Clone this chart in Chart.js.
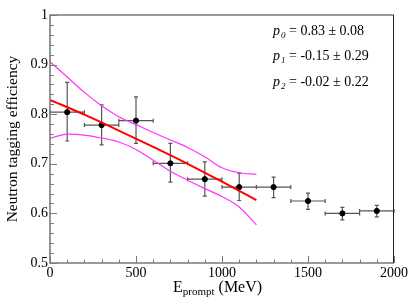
<!DOCTYPE html>
<html>
<head>
<meta charset="utf-8">
<script src="https://cdn.jsdelivr.net/npm/chart.js@4/dist/chart.umd.min.js"></script>
<style>
  html, body { margin: 0; padding: 0; background: #fff; }
</style>
</head>
<body>
<canvas id="eff" width="415" height="300"></canvas>
<script>
// measured points (E_prompt bin centre, efficiency, error bar ends)
const energy     = [100, 300, 500, 700, 900, 1100, 1300, 1500, 1700, 1900];
const efficiency = [0.804, 0.778, 0.787, 0.701, 0.669, 0.653, 0.653, 0.625, 0.600, 0.605];
const errTop     = [0.864, 0.819, 0.835, 0.741, 0.704, 0.681, 0.673, 0.641, 0.612, 0.616];
const errBottom  = [0.746, 0.738, 0.741, 0.663, 0.635, 0.626, 0.632, 0.608, 0.587, 0.593];
const binHalf    = [100, 100, 100, 100, 100, 100, 100, 100, 100, 100];

// fit curve and its error band
const fitX = [0, 200, 400, 600, 800, 1000, 1200];
const fitY = [0.829, 0.799, 0.767, 0.734, 0.700, 0.664, 0.627];

const bandX     = [0, 100, 200, 300, 400, 500, 600, 700, 800, 900, 1000, 1100, 1200];
const bandUpper = [0.906, 0.875, 0.844, 0.817, 0.795, 0.779, 0.763, 0.748, 0.733, 0.714, 0.692, 0.682, 0.679];
const bandLower = [0.751, 0.760, 0.758, 0.752, 0.744, 0.729, 0.707, 0.685, 0.667, 0.650, 0.634, 0.613, 0.577];

const paramIdx = ['0', '1', '2'];
const paramVal = ['0.83', '-0.15', '-0.02'];
const paramErr = ['0.08', '0.29', '0.22'];

const serif = '"Liberation Serif", "DejaVu Serif", serif';
const toXY = (xs, ys) => xs.map((x, i) => ({ x: x, y: ys[i] }));

const rootStyle = {
  id: 'rootStyle',
  beforeDatasetDraw(chart, args) {
    if (args.index !== 3) return;
    const ctx = chart.ctx, xs = chart.scales.x, ys = chart.scales.y;
    ctx.save();
    ctx.strokeStyle = '#555';
    ctx.lineWidth = 1.2;
    ctx.beginPath();
    energy.forEach((e, i) => {
      const px = xs.getPixelForValue(e);
      const py = ys.getPixelForValue(efficiency[i]);
      const x0 = xs.getPixelForValue(e - binHalf[i]);
      const x1 = xs.getPixelForValue(e + binHalf[i]);
      const yt = ys.getPixelForValue(errTop[i]);
      const yb = ys.getPixelForValue(errBottom[i]);
      ctx.moveTo(x0, py); ctx.lineTo(x1, py);
      ctx.moveTo(x0, py - 2); ctx.lineTo(x0, py + 2);
      ctx.moveTo(x1, py - 2); ctx.lineTo(x1, py + 2);
      ctx.moveTo(px, yt); ctx.lineTo(px, yb);
      ctx.moveTo(px - 2, yt); ctx.lineTo(px + 2, yt);
      ctx.moveTo(px - 2, yb); ctx.lineTo(px + 2, yb);
    });
    ctx.stroke();
    ctx.restore();
  },
  afterDraw(chart) {
    const ctx = chart.ctx, a = chart.chartArea;
    const xs = chart.scales.x, ys = chart.scales.y;
    ctx.save();
    // frame
    ctx.strokeStyle = '#7a7a7a';
    ctx.lineWidth = 1.6;
    ctx.beginPath();
    ctx.moveTo(a.right, a.top); ctx.lineTo(a.left, a.top);
    ctx.lineTo(a.left, a.bottom); ctx.lineTo(a.right, a.bottom);
    ctx.stroke();
    ctx.strokeStyle = '#222';
    ctx.lineWidth = 1;
    ctx.beginPath();
    ctx.moveTo(a.right - 0.5, a.top); ctx.lineTo(a.right - 0.5, a.bottom);
    ctx.stroke();
    // inward ticks
    ctx.strokeStyle = '#7a7a7a';
    ctx.lineWidth = 1;
    ctx.beginPath();
    for (let v = 0; v <= 2000; v += 100) {
      const px = Math.round(xs.getPixelForValue(v)) + 0.5;
      const len = v % 500 === 0 ? 7 : 3.5;
      ctx.moveTo(px, a.bottom); ctx.lineTo(px, a.bottom - len);
    }
    for (let k = 0; k <= 25; k++) {
      const py = Math.round(ys.getPixelForValue(0.5 + k * 0.02)) + 0.5;
      const len = k % 5 === 0 ? 7 : 4;
      ctx.moveTo(a.left, py); ctx.lineTo(a.left + len, py);
    }
    ctx.stroke();

    ctx.fillStyle = '#000';
    // y title
    ctx.save();
    ctx.translate(13, (a.top + a.bottom) / 2);
    ctx.rotate(-Math.PI / 2);
    ctx.font = '15.5px ' + serif;
    ctx.textAlign = 'center';
    ctx.textBaseline = 'middle';
    ctx.fillText('Neutron tagging efficiency', 0, 0);
    ctx.restore();

    // x title with subscript
    ctx.textBaseline = 'alphabetic';
    ctx.textAlign = 'left';
    let x = 173;
    const base = 292;
    ctx.font = '16px ' + serif;
    ctx.fillText('E', x, base);
    x += ctx.measureText('E').width;
    ctx.font = '11px ' + serif;
    ctx.fillText('prompt', x, base + 3);
    x += ctx.measureText('prompt').width;
    ctx.font = '16px ' + serif;
    ctx.fillText(' (MeV)', x, base);

    // fit parameters
    paramIdx.forEach((idx, i) => {
      const b = 34.5 + i * 25.5;
      let tx = 273;
      ctx.font = 'italic 14px ' + serif;
      ctx.fillText('p', tx, b);
      tx += ctx.measureText('p').width + 1;
      ctx.font = 'italic 9px ' + serif;
      ctx.fillText(idx, tx, b + 3);
      tx += ctx.measureText(idx).width;
      ctx.font = '14px ' + serif;
      ctx.fillText(' = ' + paramVal[i] + ' \u00b1 ' + paramErr[i], tx, b);
    });
    ctx.restore();
  }
};

new Chart(document.getElementById('eff'), {
  type: 'scatter',
  data: {
    datasets: [
      {
        data: toXY(bandX, bandUpper),
        showLine: true,
        borderColor: '#ff33ff',
        borderWidth: 1.2,
        pointRadius: 0,
        cubicInterpolationMode: 'monotone'
      },
      {
        data: toXY(bandX, bandLower),
        showLine: true,
        borderColor: '#ff33ff',
        borderWidth: 1.2,
        pointRadius: 0,
        cubicInterpolationMode: 'monotone'
      },
      {
        data: toXY(fitX, fitY),
        showLine: true,
        borderColor: '#ff0000',
        borderWidth: 2,
        pointRadius: 0,
        cubicInterpolationMode: 'monotone'
      },
      {
        data: toXY(energy, efficiency),
        backgroundColor: '#000',
        borderColor: '#000',
        pointRadius: 2.6,
        pointHoverRadius: 2.6
      }
    ]
  },
  options: {
    responsive: false,
    animation: false,
    devicePixelRatio: 1,
    layout: { padding: { top: 15, right: 21, left: 0, bottom: 0 } },
    plugins: {
      legend: { display: false },
      tooltip: { enabled: false }
    },
    scales: {
      x: {
        min: 0,
        max: 2000,
        grid: { display: false, drawTicks: false },
        border: { display: false },
        ticks: {
          stepSize: 500,
          padding: 2,
          color: '#000',
          maxRotation: 0,
          font: { family: serif, size: 14 },
          callback: v => String(v)
        },
        afterFit: s => { s.height = 37; }
      },
      y: {
        min: 0.5,
        max: 1,
        grid: { display: false, drawTicks: false },
        border: { display: false },
        ticks: {
          stepSize: 0.1,
          padding: 2,
          color: '#000',
          font: { family: serif, size: 14 },
          callback: v => String(+v.toFixed(1))
        },
        afterFit: s => { s.width = 50; }
      }
    }
  },
  plugins: [rootStyle]
});
</script>
</body>
</html>
